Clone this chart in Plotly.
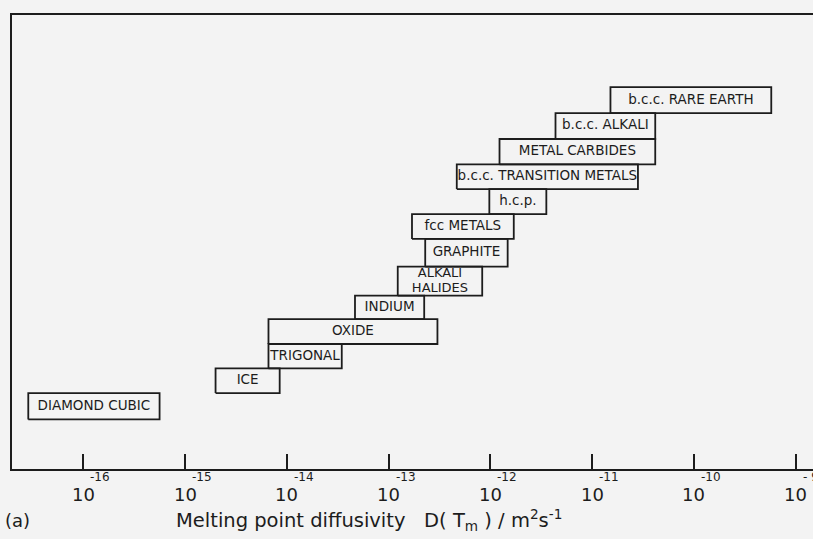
import plotly.graph_objects as go

# Box data: label, log10 D lower / upper, row extent (bottom/top in row units)
labels = ["DIAMOND CUBIC", "ICE", "TRIGONAL", "OXIDE", "INDIUM", "ALKALI<br>HALIDES",
          "GRAPHITE", "fcc METALS", "h.c.p.", "b.c.c. TRANSITION METALS",
          "METAL CARBIDES", "b.c.c. ALKALI", "b.c.c. RARE EARTH"]
logD_lo = [-16.54, -14.70, -14.18, -14.18, -13.33, -12.91, -12.64, -12.77, -12.01, -12.33, -11.91, -11.36, -10.82]
logD_hi = [-15.25, -14.07, -13.46, -12.52, -12.65, -12.08, -11.83, -11.77, -11.45, -10.55, -10.38, -10.38, -9.24]
row_lo = [1.96, 3.00, 3.98, 4.94, 5.92, 6.85, 8.00, 9.09, 10.07, 11.06, 12.04, 13.04, 14.06]
row_hi = [3.00, 3.98, 4.94, 5.92, 6.85, 8.00, 9.09, 10.07, 11.06, 12.04, 13.04, 14.06, 15.09]

tick_exps = [-16, -15, -14, -13, -12, -11, -10, -9]
tick_exp_text = ["-16", "-15", "-14", "-13", "-12", "-11", "-10", "- 9"]

INK = "#1c1c1c"
BG = "#f3f3f3"
FONT = "DejaVu Sans"

fig = go.Figure()

for lab, a, b, lo, hi in zip(labels, logD_lo, logD_hi, row_lo, row_hi):
    xa, xb = 10 ** a, 10 ** b
    fig.add_trace(go.Scatter(
        x=[xa, xb, xb, xa, xa], y=[lo, lo, hi, hi, lo],
        mode="lines", line=dict(color=INK, width=1.8),
        hoverinfo="skip", showlegend=False))
    lines = lab.split("<br>")
    n = len(lines)
    ys = [hi - (hi - lo) * (i + 0.5) / n for i in range(n)]
    fig.add_trace(go.Scatter(
        x=[10 ** ((a + b) / 2)] * n, y=ys,
        mode="text", text=lines,
        textfont=dict(family=FONT, size=13 if n > 1 else 13.5, color=INK),
        textposition="middle center",
        hoverinfo="skip", showlegend=False))

annotations = []
for e, et in zip(tick_exps, tick_exp_text):
    annotations.append(dict(
        x=e, y=0, xref="x", yref="paper", text="10", showarrow=False,
        xanchor="center", yanchor="top", yshift=-13,
        font=dict(family=FONT, size=18, color=INK)))
    annotations.append(dict(
        x=e, y=0, xref="x", yref="paper", text=et, showarrow=False,
        xanchor="left", yanchor="top", yshift=1, xshift=5,
        font=dict(family=FONT, size=12, color=INK)))

annotations.append(dict(
    x=(174 - 12) / 801, y=-51 / 454, xref="paper", yref="paper",
    text="Melting point diffusivity   D( T<sub>m</sub> ) / m<sup>2</sup>s<sup>-1</sup>",
    showarrow=False, xanchor="left", yanchor="middle",
    font=dict(family=FONT, size=19.5, color=INK)))
annotations.append(dict(
    x=(3 - 12) / 801, y=-51 / 454, xref="paper", yref="paper",
    text="(a)", showarrow=False, xanchor="left", yanchor="middle",
    font=dict(family=FONT, size=18, color=INK)))

fig.update_layout(
    width=813, height=539, autosize=False,
    margin=dict(l=12, r=0, t=15, b=70, autoexpand=False),
    paper_bgcolor=BG, plot_bgcolor=BG,
    annotations=annotations,
    xaxis=dict(type="log", range=[-16.70, -8.83],
               tickvals=[10 ** e for e in tick_exps], showticklabels=False,
               ticks="inside", ticklen=15, tickwidth=2, tickcolor=INK,
               showline=True, linewidth=2, linecolor=INK, mirror=True,
               showgrid=False, zeroline=False),
    yaxis=dict(range=[0, 17.94], showticklabels=False, ticks="",
               showline=True, linewidth=2, linecolor=INK, mirror=False,
               showgrid=False, zeroline=False),
)

fig.write_html("out.html", config={"displayModeBar": False},
               post_script="document.body.style.margin='0';document.body.style.background='%s';" % BG)
